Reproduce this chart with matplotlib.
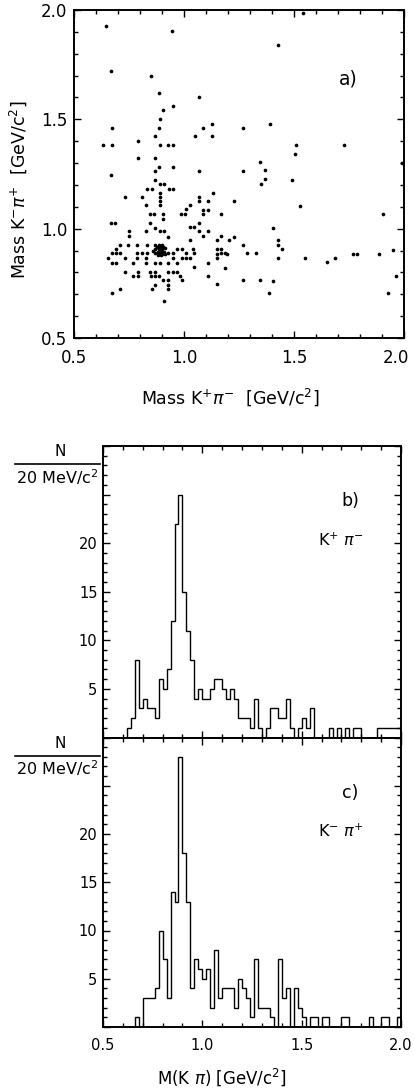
import numpy as np
import matplotlib
matplotlib.use('Agg')
import matplotlib.pyplot as plt
from matplotlib.ticker import MultipleLocator, FuncFormatter
from matplotlib.lines import Line2D

plt.rcParams['font.family'] = ['DejaVu Sans']
plt.rcParams['mathtext.fontset'] = 'dejavusans'

# a) scatter: M(K+ pi-) vs M(K- pi+), GeV/c^2
kpim_mass = [
    0.645, 0.944, 1.542, 1.426, 0.668, 0.848, 0.888, 1.068, 0.948, 0.906,
    0.891, 1.391, 0.671, 0.888, 1.088, 1.129, 1.270, 1.050, 1.129, 0.868,
    0.791, 0.630, 0.671, 0.891, 0.929, 0.952, 1.509, 1.729, 0.789, 0.868,
    1.505, 1.345, 1.368, 1.989, 0.868, 0.888, 0.948, 1.068, 1.267, 0.668,
    0.870, 0.891, 0.911, 1.368, 1.348, 1.489, 0.830, 0.853, 0.932, 0.952,
    0.891, 1.130, 0.732, 1.068, 1.068, 0.891, 0.891, 0.891, 0.811, 1.027,
    1.111, 1.229, 1.527, 0.826, 1.009, 1.088, 1.108, 0.845, 0.865, 0.906,
    0.906, 0.985, 1.005, 1.168, 1.088, 1.070, 0.667, 0.688, 0.845, 1.906,
    1.027, 1.047, 0.868, 1.406, 0.827, 0.891, 0.911, 0.752, 0.752, 1.068,
    1.111, 0.929, 1.168, 1.027, 1.085, 1.206, 1.229, 1.152, 1.267, 1.426,
    1.426, 1.444, 0.709, 0.747, 0.788, 0.830, 0.691, 0.967, 0.989, 1.042,
    1.148, 1.168, 0.673, 0.691, 0.709, 0.788, 0.808, 0.830, 0.929, 0.952,
    1.009, 1.047, 1.168, 1.186, 1.285, 1.327, 1.550, 1.767, 1.788, 1.888,
    1.948, 0.653, 0.732, 0.785, 0.826, 0.952, 0.989, 1.027, 1.148, 1.148,
    1.194, 1.429, 1.686, 0.671, 0.691, 0.770, 0.826, 0.868, 0.891, 0.929,
    0.967, 1.009, 1.111, 1.648, 1.045, 1.186, 0.929, 0.948, 0.970, 0.732,
    0.792, 0.868, 0.770, 0.789, 0.845, 0.848, 0.868, 0.888, 0.982, 0.989,
    1.111, 1.964, 1.267, 1.345, 1.406, 0.906, 0.926, 1.152, 0.868, 0.929,
    0.929, 0.709, 0.853, 0.673, 1.388, 1.926, 0.909,
    0.870, 0.885, 0.900, 0.875, 0.890, 0.905, 0.915, 0.870, 0.885, 0.900,
    0.880, 0.895, 0.910, 0.870, 0.888, 0.902, 0.915, 0.880, 0.895, 0.860,
]
kmpip_mass = [
    1.925, 1.903, 1.986, 1.842, 1.721, 1.699, 1.620, 1.602, 1.559, 1.541,
    1.500, 1.480, 1.460, 1.460, 1.460, 1.480, 1.460, 1.422, 1.422, 1.422,
    1.403, 1.381, 1.381, 1.381, 1.381, 1.381, 1.381, 1.381, 1.323, 1.322,
    1.343, 1.305, 1.267, 1.301, 1.263, 1.282, 1.282, 1.264, 1.264, 1.244,
    1.221, 1.206, 1.206, 1.225, 1.206, 1.221, 1.183, 1.183, 1.183, 1.183,
    1.164, 1.164, 1.145, 1.145, 1.126, 1.145, 1.126, 1.106, 1.145, 1.107,
    1.126, 1.126, 1.104, 1.106, 1.088, 1.084, 1.084, 1.065, 1.065, 1.065,
    1.046, 1.065, 1.065, 1.065, 1.069, 1.027, 1.027, 1.027, 1.024, 1.065,
    1.008, 1.008, 1.004, 1.004, 0.989, 0.989, 0.989, 0.989, 0.967, 0.989,
    0.989, 0.963, 0.967, 0.947, 0.967, 0.947, 0.963, 0.947, 0.925, 0.947,
    0.925, 0.905, 0.925, 0.925, 0.925, 0.925, 0.905, 0.905, 0.905, 0.905,
    0.905, 0.905, 0.887, 0.887, 0.887, 0.887, 0.887, 0.887, 0.887, 0.887,
    0.887, 0.887, 0.887, 0.887, 0.887, 0.887, 0.864, 0.884, 0.884, 0.884,
    0.902, 0.864, 0.864, 0.864, 0.864, 0.864, 0.864, 0.864, 0.884, 0.864,
    0.884, 0.864, 0.864, 0.841, 0.841, 0.841, 0.841, 0.841, 0.841, 0.841,
    0.841, 0.864, 0.841, 0.846, 0.826, 0.821, 0.803, 0.803, 0.803, 0.803,
    0.803, 0.803, 0.785, 0.785, 0.803, 0.785, 0.785, 0.785, 0.785, 0.765,
    0.785, 0.785, 0.765, 0.765, 0.762, 0.765, 0.765, 0.745, 0.742, 0.742,
    0.725, 0.725, 0.725, 0.704, 0.704, 0.704, 0.669,
    0.925, 0.925, 0.925, 0.915, 0.915, 0.915, 0.910, 0.905, 0.905, 0.905,
    0.895, 0.895, 0.895, 0.890, 0.885, 0.885, 0.885, 0.878, 0.878, 0.900,
]

# b), c) histograms, 20 MeV bins from 0.5 to 2.0 GeV/c^2
bin_lo, bin_hi, bin_w = 0.5, 2.0, 0.02
counts_kpim = [
    0, 0, 0, 0, 0, 0, 1, 2, 8, 3, 4, 3, 3, 2, 6, 5, 7, 12, 22, 25,
    15, 11, 8, 4, 5, 4, 4, 5, 6, 6, 5, 4, 5, 4, 2, 2, 2, 1, 4, 1,
    0, 1, 3, 3, 2, 2, 4, 1, 0, 1, 2, 1, 3, 0, 0, 0, 0, 1, 0, 1,
    0, 1, 0, 1, 1, 0, 0, 0, 0, 1, 1, 1, 1, 1, 1,
]
counts_kmpip = [
    0, 0, 0, 0, 0, 0, 0, 0, 1, 0, 3, 3, 3, 4, 10, 7, 3, 14, 13, 28,
    18, 13, 4, 7, 6, 5, 6, 2, 8, 3, 4, 4, 4, 2, 5, 4, 3, 1, 7, 2,
    2, 2, 1, 0, 7, 3, 4, 0, 4, 2, 1, 0, 1, 1, 0, 1, 1, 0, 0, 0,
    1, 1, 0, 0, 0, 0, 0, 1, 0, 0, 1, 1, 0, 0, 1,
]

W, H = 415, 1089
fig = plt.figure(figsize=(W / 100, H / 100), dpi=100)


def fx(px):
    return px / W


def fy(py):
    return 1 - py / H


def style_ticks(ax, size):
    ax.tick_params(which='both', direction='in', top=True, right=True,
                   width=1.0, labelsize=size)
    ax.tick_params(which='major', length=5)
    ax.tick_params(which='minor', length=3)
    for s in ax.spines.values():
        s.set_linewidth(1.4)


# --- a) scatter
ax_a = fig.add_axes([fx(74), fy(338), fx(330), 328 / H])
ax_a.scatter(kpim_mass, kmpip_mass, s=7, marker='o', color='k', linewidths=0)
ax_a.set_xlim(0.5, 2.0)
ax_a.set_ylim(0.5, 2.0)
ax_a.xaxis.set_major_locator(MultipleLocator(0.5))
ax_a.yaxis.set_major_locator(MultipleLocator(0.5))
ax_a.xaxis.set_minor_locator(MultipleLocator(0.1))
ax_a.yaxis.set_minor_locator(MultipleLocator(0.1))
# last x label (2.0) is drawn by hand, a bit inwards, so it is not cut
ax_a.xaxis.set_major_formatter(
    FuncFormatter(lambda v, p: f'{v:.1f}' if v < 1.9 else ''))
ax_a.yaxis.set_major_formatter(FuncFormatter(lambda v, p: f'{v:.1f}'))
style_ticks(ax_a, 12)
ax_a.tick_params(axis='x', pad=8)
ax_a.tick_params(axis='y', pad=5)
ax_a.annotate('2.0', xy=(2.0, 0), xycoords=('data', 'axes fraction'),
              xytext=(-6, -8), textcoords='offset points',
              ha='center', va='top', fontsize=12)
ax_a.text(0.83, 0.79, 'a)', transform=ax_a.transAxes, fontsize=13.5,
          ha='center', va='center')
fig.text(fx(230), fy(397), r'Mass K$^{+}\pi^{-}$  [GeV/c$^{2}$]',
         ha='center', va='center', fontsize=12.5)
fig.text(fx(18), fy(190), r'Mass K$^{-}\pi^{+}$  [GeV/c$^{2}$]',
         ha='center', va='center', rotation=90, fontsize=12.5)

# --- b), c) histograms
edges = np.arange(bin_lo, bin_hi + bin_w / 2, bin_w)


def hist_panel(top_px, bot_px, counts, tag, label, bottom_labels):
    ax = fig.add_axes([fx(103), fy(bot_px), fx(298), (bot_px - top_px) / H])
    ax.stairs(counts, edges, color='k', linewidth=1.0)
    ax.set_xlim(0.5, 2.0)
    ax.set_ylim(0, 30)
    ax.xaxis.set_major_locator(MultipleLocator(0.5))
    ax.xaxis.set_minor_locator(MultipleLocator(0.1))
    ax.yaxis.set_major_locator(MultipleLocator(5))
    ax.yaxis.set_minor_locator(MultipleLocator(1))
    ax.yaxis.set_major_formatter(
        FuncFormatter(lambda v, p: f'{v:.0f}' if 4 < v < 21 else ''))
    ax.xaxis.set_major_formatter(FuncFormatter(lambda v, p: f'{v:.1f}'))
    style_ticks(ax, 10.5)
    ax.tick_params(axis='y', pad=4)
    ax.tick_params(axis='x', pad=8, labelbottom=bottom_labels)
    ax.text(0.83, 0.81, tag, transform=ax.transAxes, fontsize=12.5,
            ha='center', va='center')
    ax.text(0.80, 0.675, label, transform=ax.transAxes, fontsize=11.5,
            ha='center', va='center')
    # N / (20 MeV/c^2) label
    fig.text(fx(60), fy(top_px + 6), 'N', ha='center', va='center',
             fontsize=11)
    fig.add_artist(Line2D([fx(15), fx(100)], [fy(top_px + 18)] * 2,
                          color='k', linewidth=1.2))
    fig.text(fx(57), fy(top_px + 31), r'20 MeV/c$^{2}$', ha='center',
             va='center', fontsize=11.5)
    return ax


ax_b = hist_panel(446, 737.5, counts_kpim, 'b)', r'K$^{+}$ $\pi^{-}$', False)
ax_c = hist_panel(737.5, 1027, counts_kmpip, 'c)', r'K$^{-}$ $\pi^{+}$', True)
fig.text(fx(222), fy(1077), r'M(K $\pi$) [GeV/c$^{2}$]', ha='center',
         va='center', fontsize=12)

fig.savefig('out.png', dpi=100)
